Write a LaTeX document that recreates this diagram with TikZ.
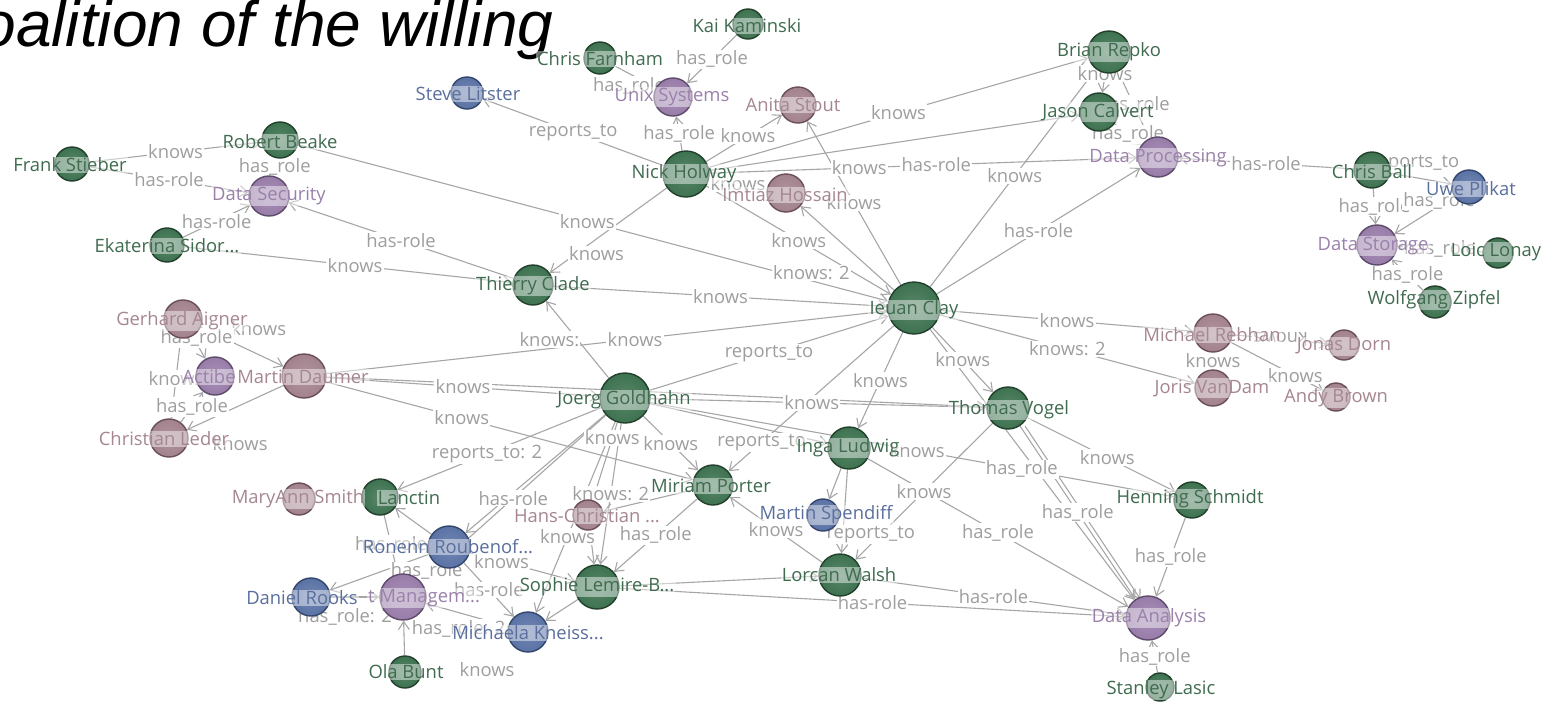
\documentclass[tikz,border=0pt]{standalone}
\usepackage{fontspec}
\newfontfamily\lblfont{Open Sans}
\newfontfamily\ttlfont{Liberation Sans}
\usetikzlibrary{arrows.meta}
\definecolor{edgegray}{HTML}{A6A6A6}
\definecolor{labgray}{HTML}{9E9E9E}
\definecolor{gfill}{HTML}{3D7250}
\definecolor{gline}{HTML}{22402C}
\definecolor{gtext}{HTML}{3F6B4F}
\definecolor{pfill}{HTML}{987CA9}
\definecolor{pline}{HTML}{5E4A6A}
\definecolor{ptext}{HTML}{9A80AA}
\definecolor{mfill}{HTML}{A2828D}
\definecolor{mline}{HTML}{6A4E58}
\definecolor{mtext}{HTML}{A6868F}
\definecolor{bfill}{HTML}{5A72A5}
\definecolor{bline}{HTML}{33466C}
\definecolor{btext}{HTML}{5A6F9E}
\pgfdeclarelayer{backdrop}
\pgfdeclarelayer{edges}
\pgfdeclarelayer{elabels}
\pgfdeclarelayer{nlabels}
\pgfsetlayers{backdrop,edges,elabels,main,nlabels}
\tikzset{
  person/.style={circle,inner sep=0pt,line width=0.7pt},
  pg/.style={person,shade,inner color=gfill!85!white,outer color=gfill,draw=gline},
  pp/.style={person,shade,inner color=pfill!85!white,outer color=pfill,draw=pline},
  pm/.style={person,shade,inner color=mfill!85!white,outer color=mfill,draw=mline},
  pb/.style={person,shade,inner color=bfill!85!white,outer color=bfill,draw=bline},
  tag/.style={font=\lblfont\fontsize{9.2}{10}\selectfont,fill=white,fill opacity=.45,text opacity=1,inner sep=0.6pt},
  pg-t/.style={tag,text=gtext},
  pp-t/.style={tag,text=ptext},
  pm-t/.style={tag,text=mtext},
  pb-t/.style={tag,text=btext},
  link/.style={draw=edgegray,line width=0.55pt,-{Straight Barb[length=4pt,width=5.5pt]}},
  elab/.style={font=\lblfont\fontsize{9.2}{10}\selectfont,text=labgray,fill=white,inner sep=0.6pt},
}
% a circle with its name tag: name, x, y, style, radius, text, tag x, tag y
\newcommand\pers[8]{%
  \node[#4,minimum size=#5pt] (#1) at (#2,#3) {};
  \begin{pgfonlayer}{nlabels}\node[#4-t] (#1-t) at (#7,#8) {#6};\end{pgfonlayer}}
% a connector between two circles, with its labels
\newcommand\conn[4][]{%
  \begin{pgfonlayer}{edges}\draw[link,#1] (#2) -- (#3);\end{pgfonlayer}
  \begin{pgfonlayer}{elabels}\path (#2) -- (#3) #4;\end{pgfonlayer}}
\begin{document}
\begin{tikzpicture}[x=0.5pt,y=-0.5pt]
\useasboundingbox (0,0) rectangle (1554,703);
\begin{pgfonlayer}{backdrop}
\fill[white] (0,0) rectangle (1554,703);
\end{pgfonlayer}
\node[anchor=base west,inner sep=0pt,font=\ttlfont\itshape\fontsize{32}{32}\selectfont] (title) at (-66,46) {Coalition of the willing};

\pers{kai}{748}{24}{pg}{15}{Kai Kaminski}{747}{26}
\pers{farnham}{600}{58}{pg}{16}{Chris Farnham}{600}{59}
\pers{steve}{467}{93}{pb}{16}{Steve Litster}{468}{94}
\pers{unix}{673}{97}{pp}{19}{Unix Systems}{672}{97}
\pers{anita}{798}{105}{pm}{18}{Anita Stout}{793}{105}
\pers{brian}{1109}{52}{pg}{21}{Brian Repko}{1109}{52}
\pers{jason}{1099}{112}{pg}{19}{Jason Calvert}{1098}{112}
\pers{dproc}{1158}{157}{pp}{20}{Data Processing}{1158}{158}
\pers{nick}{686}{174}{pg}{23}{Nick Holway}{684}{174}
\pers{imtiaz}{786}{193}{pm}{19}{Imtiaz Hossain}{785}{195}
\pers{cball}{1372}{170}{pg}{18}{Chris Ball}{1372}{172}
\pers{uwe}{1469}{187}{pb}{17}{Uwe Plikat}{1471}{189}
\pers{dstore}{1377}{245}{pp}{20}{Data Storage}{1373}{246}
\pers{loic}{1498}{253}{pg}{15}{Loic Lonay}{1496}{252}
\pers{wolf}{1435}{302}{pg}{16}{Wolfgang Zipfel}{1434}{300}
\pers{robert}{280}{140}{pg}{18}{Robert Beake}{280}{142}
\pers{frank}{72}{164}{pg}{17}{Frank Stieber}{70}{165}
\pers{dsec}{269}{196}{pp}{20}{Data Security}{269}{196}
\pers{ekat}{167}{245}{pg}{17}{Ekaterina Sidor...}{167}{246}
\pers{thierry}{533}{285}{pg}{20}{Thierry Clade}{533}{286}
\pers{ieuan}{914}{308}{pg}{26}{Ieuan Clay}{914}{310}
\pers{gerhard}{183}{319}{pm}{19}{Gerhard Aigner}{182}{321}
\pers{actibe}{215}{376}{pp}{19}{Actibe}{209}{377}
\pers{daumer}{304}{376}{pm}{22}{Martin Daumer}{303}{377}
\pers{leder}{169}{438}{pm}{19}{Christian Leder}{164}{439}
\pers{joerg}{625}{398}{pg}{25}{Joerg Goldhahn}{624}{400}
\pers{thomas}{1008}{408}{pg}{21}{Thomas Vogel}{1009}{410}
\pers{inga}{849}{448}{pg}{21}{Inga Ludwig}{848}{448}
\pers{rebhan}{1213}{333}{pm}{19}{Michael Rebhan}{1212}{335}
\pers{dorn}{1344}{345}{pm}{15}{Jonas Dorn}{1344}{346}
\pers{vandam}{1213}{388}{pm}{18}{Joris VanDam}{1212}{388}
\pers{brown}{1336}{397}{pm}{14}{Andy Brown}{1336}{398}
\pers{henning}{1192}{500}{pg}{18}{Henning Schmidt}{1190}{499}
\pers{danal}{1148}{618}{pp}{22}{Data Analysis}{1149}{618}
\pers{stanley}{1160}{687}{pg}{14}{Stanley Lasic}{1161}{690}
\pers{maryann}{299}{499}{pm}{16}{MaryAnn Smith}{298}{499}
\pers{lanctin}{380}{497}{pg}{18}{Lanctin}{409}{498}
\pers{miriam}{713}{485}{pg}{20}{Miriam Porter}{711}{486}
\pers{hans}{588}{515}{pm}{15}{Hans-Christian ...}{587}{516}
\pers{spendiff}{823}{515}{pb}{16}{Martin Spendiff}{826}{515}
\pers{ronenn}{449}{547}{pb}{21}{Ronenn Roubenof...}{448}{547}
\pers{managem}{403}{597}{pp}{23}{t Managem...}{424}{598}
\pers{sophie}{597}{587}{pg}{22}{Sophie Lemire-B...}{597}{587}
\pers{michaela}{528}{632}{pb}{20}{Michaela Kneiss...}{528}{633}
\pers{daniel}{311}{597}{pb}{19}{Daniel Rooks}{302}{598}
\pers{ola}{405}{672}{pg}{16}{Ola Bunt}{406}{672}
\pers{lorcan}{840}{575}{pg}{21}{Lorcan Walsh}{839}{575}

% upper cluster
\conn{kai}{unix}{node[elab,pos=.5]{has\_role}}
\conn{farnham}{unix}{node[elab,pos=.35,shift={(0,12)}]{has\_role}}
\conn{nick}{unix}{node[elab,pos=.5]{has\_role}}
\conn{nick}{steve}{node[elab,pos=.5]{reports\_to}}
\conn{nick}{anita}{node[elab,pos=.55]{knows}}
\conn{nick}{brian}{node[elab,pos=.5]{knows}}
\conn{nick}{jason}{}
\conn{nick}{dproc}{node[elab,pos=.35]{knows} node[elab,pos=.53]{has-role}}
\conn{nick}{imtiaz}{node[elab,pos=.5]{knows}}
\conn{nick}{thierry}{node[elab,pos=.6,shift={(0,15)}]{knows}}
\conn{nick}{ieuan}{node[elab,pos=.5]{knows}}
\conn{robert}{ieuan}{node[elab,pos=.49]{knows} node[elab,pos=.87,shift={(0,-8)}]{knows: 2}}
\conn{frank}{robert}{node[elab,pos=.5]{knows}}
\conn{frank}{dsec}{node[elab,pos=.5]{has-role}}
\conn{robert}{dsec}{node[elab,pos=.5]{has\_role}}
\conn{ekat}{dsec}{node[elab,pos=.5]{has-role}}
\conn{thierry}{dsec}{node[elab,pos=.5]{has-role}}
\conn{ekat}{thierry}{node[elab,pos=.52]{knows}}
\conn{thierry}{ieuan}{node[elab,pos=.5]{knows}}
\conn{joerg}{thierry}{node[elab,pos=.5,shift={(-28,0)}]{knows:}}
\conn{daumer}{ieuan}{node[elab,pos=.55]{knows}}
\conn{joerg}{ieuan}{node[elab,pos=.5]{reports\_to}}
\conn{ieuan}{imtiaz}{}
\conn{ieuan}{anita}{node[elab,pos=.5]{knows}}
\conn{ieuan}{brian}{node[elab,pos=.51]{knows}}
\conn{ieuan}{dproc}{node[elab,pos=.5]{has-role}}
\conn{brian}{jason}{node[elab,pos=.1,shift={(0,-2)}]{knows}}
\conn{brian}{dproc}{node[elab,pos=.5]{has\_role}}
\conn{jason}{dproc}{node[elab,pos=.5]{has\_role}}
\conn{cball}{dproc}{node[elab,pos=.5]{has-role}}
\conn{cball}{uwe}{node[elab,pos=.4,shift={(0,-14)}]{reports\_to}}
\conn{cball}{dstore}{node[elab,pos=.5]{has\_role}}
\conn{uwe}{dstore}{node[elab,pos=.25,shift={(0,-5)}]{has\_role}}
\conn{loic}{dstore}{node[elab,pos=.5]{has\_role}}
\conn{wolf}{dstore}{node[elab,pos=.5]{has\_role}}
% right cluster
\conn{ieuan}{rebhan}{node[elab,pos=.5]{knows}}
\conn{ieuan}{vandam}{node[elab,pos=.5]{knows: 2}}
\conn{rebhan}{dorn}{node[elab,pos=.5,rotate=180]{knows}}
\conn{rebhan}{vandam}{node[elab,pos=.5]{knows}}
\conn{rebhan}{brown}{node[elab,pos=.7]{knows}}
\conn{ieuan}{thomas}{node[elab,pos=.5]{knows}}
\conn{ieuan}{inga}{node[elab,pos=.5]{knows}}
\conn{ieuan}{miriam}{node[elab,pos=.8]{reports\_to}}
\conn{ieuan}{danal}{}
% left cluster
\conn{gerhard}{daumer}{node[elab,pos=.7,shift={(0,-26)}]{knows}}
\conn{gerhard}{actibe}{node[elab,pos=.3,shift={(0,-5)}]{has\_role}}
\conn{gerhard}{leder}{node[elab,pos=.5]{knows}}
\conn{leder}{actibe}{node[elab,pos=.5]{has\_role}}
\conn{daumer}{leder}{node[elab,pos=.5,shift={(5,36)}]{knows}}
\conn{daumer}{joerg}{node[elab,pos=.5]{knows}}
\conn{daumer}{thomas}{}
\conn{joerg}{thomas}{node[elab,pos=.48]{knows}}
\conn{daumer}{miriam}{node[elab,pos=.37]{knows}}
% lower cluster
\conn{joerg}{lanctin}{node[elab,pos=.56]{reports\_to: 2}}
\conn{joerg}{miriam}{node[elab,pos=.5]{knows}}
\conn{joerg}{inga}{}
\conn{joerg}{henning}{node[elab,pos=.51]{knows} node[elab,pos=.71]{has\_role}}
\conn{thomas}{henning}{node[elab,pos=.54]{knows}}
\conn{thomas}{danal}{node[elab,pos=.5]{has\_role}}
\conn[transform canvas={xshift=2.5pt}]{thomas}{danal}{}
\conn{inga}{danal}{node[elab,pos=.5]{has\_role}}
\conn{thomas}{lorcan}{node[elab,pos=.5]{knows}}
\conn{henning}{danal}{node[elab,pos=.5]{has\_role}}
\conn{stanley}{danal}{node[elab,pos=.5]{has\_role}}
\conn{lorcan}{danal}{node[elab,pos=.5]{has-role}}
\conn{sophie}{danal}{node[elab,pos=.5]{has-role}}
\conn{sophie}{lorcan}{}
\conn{inga}{spendiff}{}
\conn{inga}{lorcan}{node[elab,pos=.78,shift={(28,0)}]{reports\_to}}
\conn{lorcan}{miriam}{node[elab,pos=.5]{knows}}
\conn{miriam}{sophie}{node[elab,pos=.5]{has\_role}}
\conn{miriam}{hans}{}
\conn{joerg}{sophie}{node[elab,pos=.5]{knows: 2}}
\conn{joerg}{hans}{node[elab,pos=.2]{knows}}
\conn{joerg}{michaela}{node[elab,pos=.6]{knows}}
\conn{joerg}{managem}{node[elab,pos=.5]{has-role}}
\conn{joerg}{ronenn}{}
\conn{ronenn}{lanctin}{}
\conn{ronenn}{daniel}{}
\conn{lanctin}{managem}{node[elab,pos=.5]{has\_role}}
\conn{ronenn}{managem}{node[elab,pos=.5]{has\_role}}
\conn{ronenn}{michaela}{node[elab,pos=.5]{has-role}}
\conn{ronenn}{sophie}{node[elab,pos=.3]{knows}}
\conn{daniel}{managem}{node[elab,pos=.5,shift={(-10,20)}]{has\_role: 2}}
\conn{michaela}{managem}{node[elab,pos=.6,shift={(0,16)}]{has\_role: 2}}
\conn{ola}{managem}{}
\conn{sophie}{michaela}{}
\conn{hans}{sophie}{}
\begin{pgfonlayer}{elabels}
\node[elab] (olaknows) at (487,670) {knows};
\end{pgfonlayer}
\end{tikzpicture}
\end{document}
